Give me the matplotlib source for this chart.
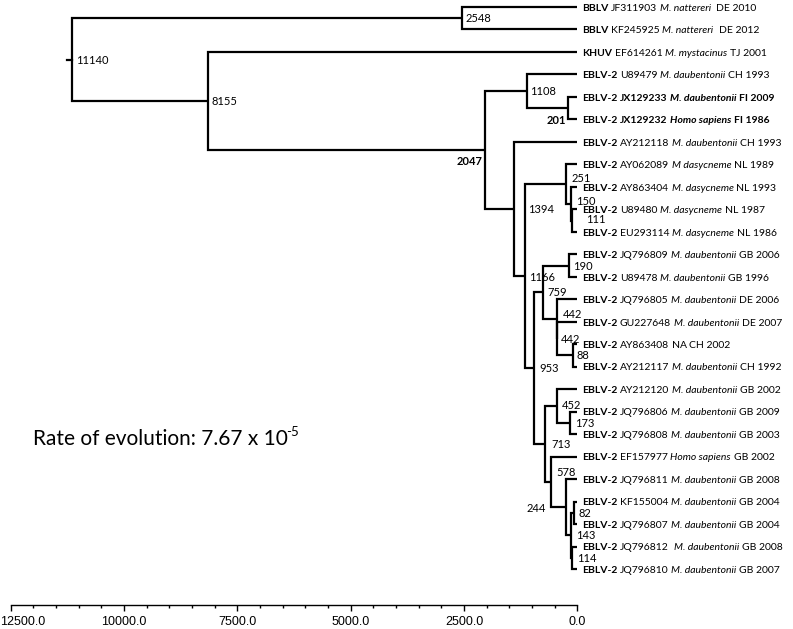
import matplotlib
matplotlib.use('Agg')
import matplotlib.pyplot as plt
from matplotlib.ticker import MultipleLocator, FormatStrFormatter
from matplotlib.transforms import ScaledTranslation

plt.rcParams['font.family'] = ['Lato', 'DejaVu Sans']

# tips, top to bottom
tip_group = ['BBLV', 'BBLV', 'KHUV'] + ['EBLV-2'] * 23
tip_acc = ['JF311903', 'KF245925', 'EF614261', 'U89479', 'JX129233', 'JX129232',
           'AY212118', 'AY062089', 'AY863404', 'U89480', 'EU293114', 'JQ796809',
           'U89478', 'JQ796805', 'GU227648', 'AY863408', 'AY212117', 'AY212120',
           'JQ796806', 'JQ796808', 'EF157977', 'JQ796811', 'KF155004', 'JQ796807',
           'JQ796812', 'JQ796810']
tip_host = ['M. nattereri', 'M. nattereri', 'M. mystacinus', 'M. daubentonii',
            'M. daubentonii', 'Homo sapiens', 'M. daubentonii', 'M dasycneme',
            'M. dasycneme', 'M. dasycneme', 'M. dasycneme', 'M. daubentonii',
            'M. daubentonii', 'M. daubentonii', 'M. daubentonii', 'NA',
            'M. daubentonii', 'M. daubentonii', 'M. daubentonii', 'M. daubentonii',
            'Homo sapiens', 'M. daubentonii', 'M. daubentonii', 'M. daubentonii',
            ' M. daubentonii', 'M. daubentonii']
tip_place = [' DE 2010', ' DE 2012', 'TJ 2001', 'CH 1993', 'FI 2009', 'FI 1986',
             'CH 1993', 'NL 1989', 'NL 1993', 'NL 1987', 'NL 1986', 'GB 2006',
             'GB 1996', 'DE 2006', 'DE 2007', 'CH 2002', 'CH 1992', 'GB 2002',
             'GB 2009', 'GB 2003', 'GB 2002', 'GB 2008', 'GB 2004', 'GB 2004',
             'GB 2008', 'GB 2007']
tip_bold = [4, 5]

# internal nodes: age (years before present) and children (tip index or node name)
node_age = {'root': 11140, 'n2548': 2548, 'n8155': 8155, 'n2047': 2047,
            'n1108': 1108, 'n201': 201, 'n1394': 1394, 'n1166': 1166,
            'n251': 251, 'n150': 150, 'n111': 111, 'n953': 953, 'n759': 759,
            'n190': 190, 'n442a': 442, 'n442b': 442, 'n88': 88, 'n713': 713,
            'n452': 452, 'n173': 173, 'n578': 578, 'n244': 244, 'n143': 143,
            'n82': 82, 'n114': 114}
children = {'root': ['n2548', 'n8155'], 'n2548': [0, 1], 'n8155': [2, 'n2047'],
            'n2047': ['n1108', 'n1394'], 'n1108': [3, 'n201'], 'n201': [4, 5],
            'n1394': [6, 'n1166'], 'n1166': ['n251', 'n953'], 'n251': [7, 'n150'],
            'n150': [8, 'n111'], 'n111': [9, 10], 'n953': ['n759', 'n713'],
            'n759': ['n190', 'n442a'], 'n190': [11, 12], 'n442a': [13, 'n442b'],
            'n442b': [14, 'n88'], 'n88': [15, 16], 'n713': ['n452', 'n578'],
            'n452': [17, 'n173'], 'n173': [18, 19], 'n578': [20, 'n244'],
            'n244': [21, 'n143'], 'n143': ['n82', 'n114'], 'n82': [22, 23],
            'n114': [24, 25]}
bold_nodes = ['n2047', 'n201']

# label placement (pixels from node, ha)
label_pos = {'root': (4, 0, 'left'), 'n2548': (4, 0, 'left'), 'n8155': (4, 0, 'left'),
             'n2047': (-2, 11, 'right'), 'n1108': (3, 0, 'left'), 'n201': (-2, 11.5, 'right'),
             'n1394': (14, 0, 'left'), 'n1166': (5, 1, 'left'), 'n251': (5, -6, 'left'),
             'n150': (5, -3, 'left'), 'n111': (14, -2, 'left'), 'n953': (5, 0, 'left'),
             'n759': (4, 0, 'left'), 'n190': (4, 0, 'left'), 'n442a': (5, -5, 'left'),
             'n442b': (3, 0, 'left'), 'n88': (3, 0, 'left'), 'n713': (6, 0, 'left'),
             'n452': (5, -1, 'left'), 'n173': (6, 0, 'left'), 'n578': (5, -10, 'left'),
             'n244': (-20, 1, 'right'), 'n143': (5, 0, 'left'), 'n82': (5, 0, 'left'),
             'n114': (5, 0, 'left')}


def age(n):
    return 0 if isinstance(n, int) else node_age[n]


ypos = {}


def get_y(n):
    if isinstance(n, int):
        return n
    if n not in ypos:
        ks = children[n]
        ypos[n] = (get_y(ks[0]) + get_y(ks[-1])) / 2
    return ypos[n]


fig = plt.figure(figsize=(7.93, 6.29), dpi=100)
ax = fig.add_axes([10.7 / 793, 24 / 629, 566.7 / 793, 605 / 629])
ax.set_xlim(12500, 0)
ax.set_ylim(26.60, -0.311)

lw = 1.6
for n, ks in children.items():
    a = node_age[n]
    y0, y1 = get_y(ks[0]), get_y(ks[-1])
    ax.plot([age(ks[0]), a, a, age(ks[-1])], [y0, y0, y1, y1], color='black',
            lw=lw, solid_joinstyle='miter', solid_capstyle='butt', clip_on=False)
# root stub
ax.plot([node_age['root'] + 110, node_age['root']], [get_y('root')] * 2,
        color='black', lw=lw, clip_on=False)

px = 0.72
for n in children:
    dx, dy, ha = label_pos[n]
    ax.annotate(str(node_age[n]), xy=(node_age[n], get_y(n)),
                xytext=(dx * px, (-dy - 4) * px), textcoords='offset points',
                ha=ha, va='baseline', fontsize=8,
                fontweight='bold' if n in bold_nodes else 'normal')

# tip labels built from pieces
tip_fs = 7.5
fig.canvas.draw()
r = fig.canvas.get_renderer()
tmp1 = ax.text(0, 0, 'xx', fontsize=tip_fs)
tmp2 = ax.text(0, 0, 'x x', fontsize=tip_fs)
space = tmp2.get_window_extent(r).width - tmp1.get_window_extent(r).width
tmp1.remove()
tmp2.remove()

for i in range(len(tip_acc)):
    bold = i in tip_bold
    w = 'bold' if bold else 'normal'
    pieces = [(tip_group[i], 'bold', 'normal'),
              (tip_acc[i], w, 'normal'),
              (tip_host[i], w, 'normal' if tip_host[i] == 'NA' else 'italic'),
              (tip_place[i], w, 'normal')]
    x = 4.5
    for txt, fw, fs in pieces:
        lead = len(txt) - len(txt.lstrip(' '))
        x += lead * space
        t = ax.annotate(txt.lstrip(' '), xy=(0, i), xytext=(x * px, -3.8 * px),
                        textcoords='offset points', ha='left', va='baseline',
                        fontsize=tip_fs, fontweight=fw, fontstyle=fs)
        x += t.get_window_extent(r).width + space

# rate text
t = fig.text(33 / 793, 1 - 445 / 629, 'Rate of evolution: 7.67 x 10', fontsize=15,
             ha='left', va='baseline')
wbox = t.get_window_extent(r)
fig.text((wbox.x1 - 1.5) / 793, 1 - 436 / 629, '-5', fontsize=9.5, ha='left',
         va='baseline')

# time axis
for s in ['top', 'left', 'right']:
    ax.spines[s].set_visible(False)
ax.spines['bottom'].set_linewidth(1.0)
ax.set_yticks([])
ax.xaxis.set_major_locator(MultipleLocator(2500))
ax.xaxis.set_minor_locator(MultipleLocator(500))
ax.xaxis.set_major_formatter(FormatStrFormatter('%.1f'))
ax.tick_params(axis='x', which='major', length=4, width=1, pad=4, labelsize=9)
ax.tick_params(axis='x', which='minor', length=2, width=1)
fig.canvas.draw()
for tk in ax.xaxis.get_major_ticks():
    lab = tk.label1
    lab.set_fontfamily(['Liberation Sans', 'DejaVu Sans'])
    if abs(tk.get_loc() - 12500) < 1:
        lab.set_horizontalalignment('left')
        lab.set_transform(lab.get_transform()
                          + ScaledTranslation(-10.7 / 100, 0, fig.dpi_scale_trans))

fig.savefig('out.png', dpi=100)
